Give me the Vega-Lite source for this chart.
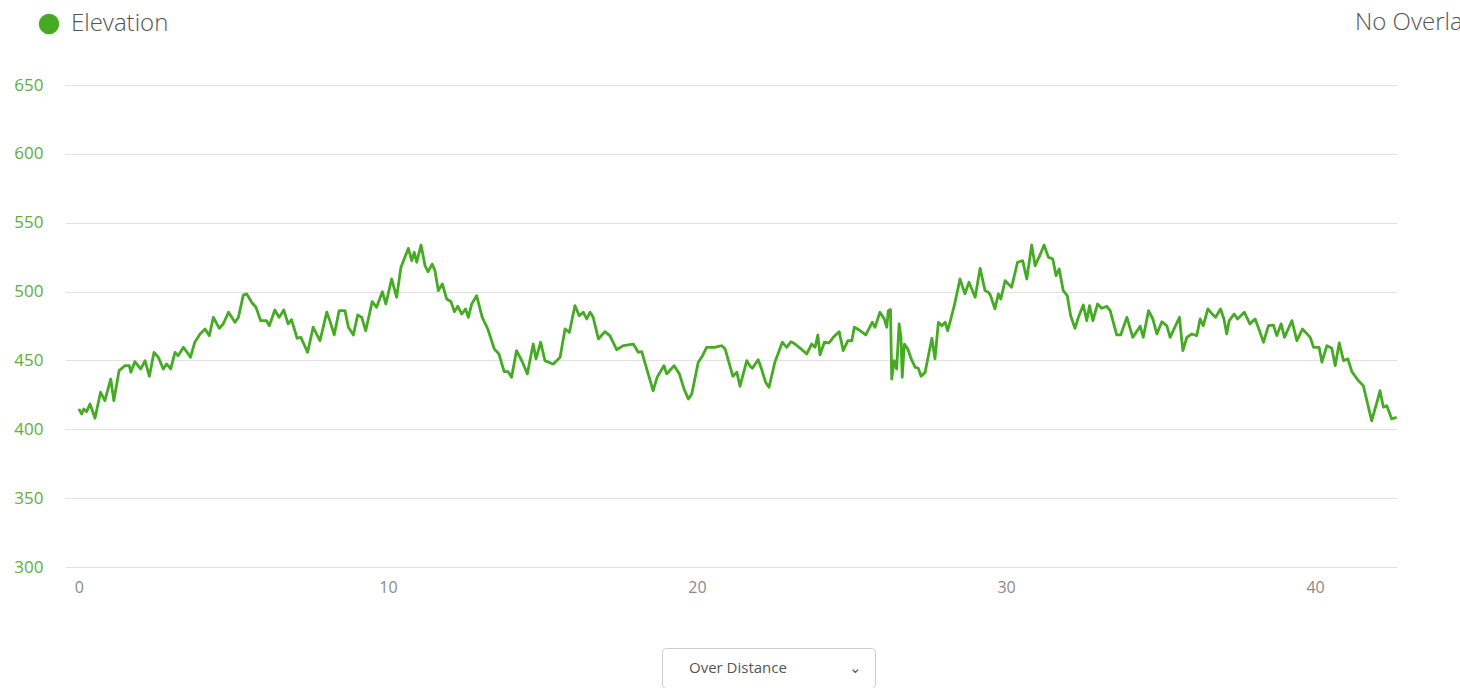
{
  "$schema": "https://vega.github.io/schema/vega-lite/v6.json",
  "width": 1332,
  "height": 482,
  "autosize": {"type": "none"},
  "padding": {"left": 65, "top": 85, "right": 63, "bottom": 121},
  "background": "white",
  "title": {
    "text": "No Overlay",
    "anchor": "start",
    "frame": "group",
    "dx": 1290,
    "offset": -35,
    "baseline": "middle",
    "font": "Open Sans",
    "fontSize": 24,
    "fontWeight": 300,
    "color": "#555555"
  },
  "data": {
    "values": [
      {"d": 0, "e": 414.7}, {"d": 0.09, "e": 411.1}, {"d": 0.16, "e": 414.7}, {"d": 0.25, "e": 412.8},
      {"d": 0.36, "e": 418.4}, {"d": 0.52, "e": 408.0}, {"d": 0.70, "e": 426.9}, {"d": 0.84, "e": 420.8},
      {"d": 1.03, "e": 436.5}, {"d": 1.13, "e": 420.8}, {"d": 1.30, "e": 442.6}, {"d": 1.49, "e": 446.2},
      {"d": 1.63, "e": 446.2}, {"d": 1.68, "e": 441.4}, {"d": 1.81, "e": 449.1}, {"d": 2.00, "e": 443.8},
      {"d": 2.14, "e": 449.8}, {"d": 2.28, "e": 438.5}, {"d": 2.43, "e": 455.9}, {"d": 2.57, "e": 452.3},
      {"d": 2.73, "e": 443.8}, {"d": 2.84, "e": 447.4}, {"d": 2.97, "e": 443.8}, {"d": 3.11, "e": 455.9},
      {"d": 3.21, "e": 453.4}, {"d": 3.38, "e": 459.5}, {"d": 3.50, "e": 455.9}, {"d": 3.61, "e": 452.3},
      {"d": 3.75, "e": 463.2}, {"d": 3.92, "e": 469.2}, {"d": 4.08, "e": 472.8}, {"d": 4.22, "e": 468.0},
      {"d": 4.35, "e": 481.3}, {"d": 4.54, "e": 473.3}, {"d": 4.67, "e": 476.5}, {"d": 4.84, "e": 485.0},
      {"d": 5.05, "e": 477.7}, {"d": 5.16, "e": 481.3}, {"d": 5.32, "e": 497.5}, {"d": 5.43, "e": 498.3},
      {"d": 5.59, "e": 492.2}, {"d": 5.73, "e": 488.6}, {"d": 5.88, "e": 478.9}, {"d": 6.07, "e": 478.9},
      {"d": 6.16, "e": 475.2}, {"d": 6.34, "e": 486.6}, {"d": 6.48, "e": 481.3}, {"d": 6.63, "e": 486.6},
      {"d": 6.77, "e": 476.5}, {"d": 6.88, "e": 479.6}, {"d": 7.06, "e": 466.1}, {"d": 7.18, "e": 466.8},
      {"d": 7.40, "e": 455.9}, {"d": 7.58, "e": 474.1}, {"d": 7.80, "e": 464.3}, {"d": 8.02, "e": 485.0},
      {"d": 8.12, "e": 478.9}, {"d": 8.26, "e": 468.5}, {"d": 8.42, "e": 486.1}, {"d": 8.61, "e": 486.1},
      {"d": 8.72, "e": 474.1}, {"d": 8.88, "e": 468.5}, {"d": 9.02, "e": 483.0}, {"d": 9.15, "e": 481.3},
      {"d": 9.28, "e": 471.6}, {"d": 9.49, "e": 492.7}, {"d": 9.63, "e": 488.6}, {"d": 9.82, "e": 499.9},
      {"d": 9.93, "e": 491.0}, {"d": 10.12, "e": 509.1}, {"d": 10.28, "e": 495.9}, {"d": 10.42, "e": 517.6},
      {"d": 10.66, "e": 531.4}, {"d": 10.77, "e": 522.4}, {"d": 10.85, "e": 528.5}, {"d": 10.93, "e": 521.3},
      {"d": 11.07, "e": 533.8}, {"d": 11.20, "e": 518.8}, {"d": 11.30, "e": 514.4}, {"d": 11.43, "e": 520.0},
      {"d": 11.52, "e": 515.2}, {"d": 11.63, "e": 500.7}, {"d": 11.76, "e": 505.5}, {"d": 11.90, "e": 494.6},
      {"d": 12.04, "e": 492.7}, {"d": 12.15, "e": 485.4}, {"d": 12.26, "e": 489.3}, {"d": 12.39, "e": 483.7},
      {"d": 12.51, "e": 487.4}, {"d": 12.60, "e": 481.3}, {"d": 12.71, "e": 491.0}, {"d": 12.87, "e": 497.0},
      {"d": 13.05, "e": 481.3}, {"d": 13.23, "e": 472.8}, {"d": 13.44, "e": 458.3}, {"d": 13.59, "e": 454.7},
      {"d": 13.76, "e": 441.8}, {"d": 13.89, "e": 441.8}, {"d": 14.00, "e": 437.8}, {"d": 14.16, "e": 457.1},
      {"d": 14.33, "e": 449.8}, {"d": 14.40, "e": 446.2}, {"d": 14.51, "e": 440.2}, {"d": 14.70, "e": 461.9},
      {"d": 14.79, "e": 451.1}, {"d": 14.94, "e": 463.2}, {"d": 15.08, "e": 449.8}, {"d": 15.35, "e": 447.4},
      {"d": 15.57, "e": 452.3}, {"d": 15.73, "e": 472.8}, {"d": 15.87, "e": 470.4}, {"d": 16.05, "e": 489.8},
      {"d": 16.19, "e": 482.5}, {"d": 16.32, "e": 485.0}, {"d": 16.43, "e": 480.1}, {"d": 16.54, "e": 485.0},
      {"d": 16.64, "e": 481.3}, {"d": 16.81, "e": 465.6}, {"d": 17.02, "e": 470.9}, {"d": 17.18, "e": 468.0},
      {"d": 17.40, "e": 457.8}, {"d": 17.61, "e": 460.7}, {"d": 17.94, "e": 461.9}, {"d": 18.10, "e": 455.9},
      {"d": 18.21, "e": 456.4}, {"d": 18.39, "e": 442.6}, {"d": 18.58, "e": 428.0}, {"d": 18.71, "e": 437.8},
      {"d": 18.93, "e": 446.2}, {"d": 19.02, "e": 440.2}, {"d": 19.26, "e": 446.2}, {"d": 19.43, "e": 440.2},
      {"d": 19.58, "e": 429.3}, {"d": 19.72, "e": 422.0}, {"d": 19.83, "e": 425.6}, {"d": 20.04, "e": 448.7},
      {"d": 20.18, "e": 453.4}, {"d": 20.31, "e": 459.5}, {"d": 20.58, "e": 459.5}, {"d": 20.80, "e": 460.7},
      {"d": 20.91, "e": 458.3}, {"d": 21.16, "e": 438.5}, {"d": 21.29, "e": 441.4}, {"d": 21.39, "e": 431.2},
      {"d": 21.61, "e": 449.8}, {"d": 21.72, "e": 445.8}, {"d": 21.79, "e": 444.3}, {"d": 21.98, "e": 450.5},
      {"d": 22.07, "e": 445.0}, {"d": 22.22, "e": 434.1}, {"d": 22.33, "e": 430.5}, {"d": 22.52, "e": 448.7},
      {"d": 22.76, "e": 463.2}, {"d": 22.90, "e": 459.5}, {"d": 23.04, "e": 463.6}, {"d": 23.17, "e": 461.9},
      {"d": 23.37, "e": 458.3}, {"d": 23.55, "e": 454.7}, {"d": 23.71, "e": 461.9}, {"d": 23.82, "e": 459.5},
      {"d": 23.91, "e": 468.5}, {"d": 23.98, "e": 454.0}, {"d": 24.12, "e": 463.2}, {"d": 24.27, "e": 462.7},
      {"d": 24.41, "e": 466.8}, {"d": 24.60, "e": 470.9}, {"d": 24.73, "e": 457.1}, {"d": 24.88, "e": 464.3},
      {"d": 25.01, "e": 464.3}, {"d": 25.09, "e": 474.1}, {"d": 25.28, "e": 471.6}, {"d": 25.46, "e": 468.5},
      {"d": 25.67, "e": 477.7}, {"d": 25.76, "e": 474.1}, {"d": 25.92, "e": 485.0}, {"d": 26.06, "e": 480.1},
      {"d": 26.14, "e": 474.1}, {"d": 26.19, "e": 486.1}, {"d": 26.26, "e": 486.9}, {"d": 26.30, "e": 436.5},
      {"d": 26.38, "e": 449.8}, {"d": 26.46, "e": 443.8}, {"d": 26.54, "e": 476.5}, {"d": 26.60, "e": 466.8},
      {"d": 26.64, "e": 437.8}, {"d": 26.71, "e": 461.9}, {"d": 26.82, "e": 458.3}, {"d": 26.93, "e": 451.1},
      {"d": 27.06, "e": 445.0}, {"d": 27.16, "e": 444.3}, {"d": 27.25, "e": 438.5}, {"d": 27.38, "e": 441.4},
      {"d": 27.60, "e": 466.1}, {"d": 27.70, "e": 451.1}, {"d": 27.81, "e": 477.7}, {"d": 27.92, "e": 475.2},
      {"d": 28.03, "e": 477.7}, {"d": 28.11, "e": 471.6}, {"d": 28.19, "e": 478.1}, {"d": 28.33, "e": 490.3},
      {"d": 28.51, "e": 509.1}, {"d": 28.67, "e": 498.3}, {"d": 28.80, "e": 506.8}, {"d": 29.00, "e": 495.9},
      {"d": 29.16, "e": 516.9}, {"d": 29.32, "e": 500.7}, {"d": 29.43, "e": 499.5}, {"d": 29.50, "e": 497.0},
      {"d": 29.64, "e": 487.4}, {"d": 29.75, "e": 498.3}, {"d": 29.83, "e": 494.6}, {"d": 29.97, "e": 507.9},
      {"d": 30.18, "e": 503.1}, {"d": 30.37, "e": 521.3}, {"d": 30.54, "e": 522.4}, {"d": 30.67, "e": 509.1},
      {"d": 30.83, "e": 533.8}, {"d": 30.94, "e": 518.8}, {"d": 31.10, "e": 526.6}, {"d": 31.23, "e": 533.8},
      {"d": 31.37, "e": 524.9}, {"d": 31.51, "e": 523.7}, {"d": 31.62, "e": 511.5}, {"d": 31.72, "e": 516.4},
      {"d": 31.85, "e": 500.7}, {"d": 31.98, "e": 497.0}, {"d": 32.09, "e": 482.5}, {"d": 32.23, "e": 473.3},
      {"d": 32.34, "e": 481.3}, {"d": 32.50, "e": 490.3}, {"d": 32.61, "e": 478.9}, {"d": 32.70, "e": 489.8},
      {"d": 32.81, "e": 478.9}, {"d": 32.96, "e": 491.0}, {"d": 33.10, "e": 487.9}, {"d": 33.26, "e": 489.3},
      {"d": 33.37, "e": 486.1}, {"d": 33.58, "e": 468.5}, {"d": 33.71, "e": 468.5}, {"d": 33.91, "e": 481.3},
      {"d": 34.10, "e": 466.8}, {"d": 34.34, "e": 474.8}, {"d": 34.44, "e": 466.8}, {"d": 34.61, "e": 486.1},
      {"d": 34.75, "e": 480.1}, {"d": 34.88, "e": 469.2}, {"d": 35.04, "e": 478.1}, {"d": 35.20, "e": 475.2},
      {"d": 35.31, "e": 466.8}, {"d": 35.61, "e": 481.3}, {"d": 35.72, "e": 457.1}, {"d": 35.85, "e": 466.8},
      {"d": 36.01, "e": 469.2}, {"d": 36.17, "e": 468.0}, {"d": 36.28, "e": 480.1}, {"d": 36.38, "e": 475.2},
      {"d": 36.53, "e": 487.4}, {"d": 36.67, "e": 483.7}, {"d": 36.78, "e": 481.3}, {"d": 36.94, "e": 487.4},
      {"d": 37.05, "e": 480.1}, {"d": 37.14, "e": 469.2}, {"d": 37.22, "e": 478.9}, {"d": 37.38, "e": 483.7},
      {"d": 37.49, "e": 480.1}, {"d": 37.71, "e": 485.0}, {"d": 37.89, "e": 476.5}, {"d": 38.06, "e": 480.1},
      {"d": 38.16, "e": 474.1}, {"d": 38.33, "e": 463.2}, {"d": 38.49, "e": 475.2}, {"d": 38.65, "e": 475.7},
      {"d": 38.76, "e": 468.0}, {"d": 38.90, "e": 476.5}, {"d": 39.01, "e": 466.8}, {"d": 39.25, "e": 478.9},
      {"d": 39.41, "e": 464.3}, {"d": 39.59, "e": 472.8}, {"d": 39.84, "e": 466.8}, {"d": 39.95, "e": 459.5},
      {"d": 40.13, "e": 459.5}, {"d": 40.22, "e": 448.7}, {"d": 40.38, "e": 460.7}, {"d": 40.54, "e": 458.8},
      {"d": 40.65, "e": 446.2}, {"d": 40.78, "e": 462.7}, {"d": 40.92, "e": 449.8}, {"d": 41.06, "e": 451.1},
      {"d": 41.19, "e": 441.8}, {"d": 41.40, "e": 435.3}, {"d": 41.56, "e": 431.7}, {"d": 41.83, "e": 406.2},
      {"d": 42.03, "e": 422.0}, {"d": 42.10, "e": 428.0}, {"d": 42.21, "e": 416.0}, {"d": 42.32, "e": 417.1},
      {"d": 42.48, "e": 407.5}, {"d": 42.64, "e": 408.7}
    ]
  },
  "mark": {"type": "line", "strokeWidth": 2.8, "strokeJoin": "round", "clip": true},
  "encoding": {
    "x": {
      "field": "d",
      "type": "quantitative",
      "scale": {"domain": [-0.45, 42.65], "nice": false, "zero": false},
      "axis": {
        "values": [0, 10, 20, 30, 40],
        "title": null,
        "grid": false,
        "domain": false,
        "ticks": false,
        "labelPadding": 12,
        "labelColor": "#8a8a8a",
        "labelFont": "Open Sans",
        "labelFontSize": 16
      }
    },
    "y": {
      "field": "e",
      "type": "quantitative",
      "scale": {"domain": [300, 650], "nice": false, "zero": false},
      "axis": {
        "values": [300, 350, 400, 450, 500, 550, 600, 650],
        "title": null,
        "grid": true,
        "gridColor": "#e2e2e2",
        "gridWidth": 1,
        "domain": false,
        "ticks": false,
        "labelPadding": 22,
        "labelColor": "#62ad3c",
        "labelFont": "Open Sans",
        "labelFontSize": 17
      }
    },
    "color": {
      "datum": "Elevation",
      "type": "nominal",
      "scale": {"range": ["#45ab22"]},
      "legend": {
        "title": null,
        "orient": "none",
        "legendX": -28,
        "legendY": -73,
        "symbolType": "circle",
        "symbolSize": 420,
        "symbolFillColor": "#45ab22",
        "symbolStrokeColor": "#45ab22",
        "symbolStrokeWidth": 0,
        "symbolOpacity": 1,
        "labelFont": "Open Sans",
        "labelFontSize": 24,
        "labelFontWeight": 300,
        "labelColor": "#555555",
        "labelOffset": 10,
        "padding": 0
      }
    },
    "strokeDash": {
      "datum": "Over Distance",
      "type": "nominal",
      "scale": {"range": [[1, 0]]},
      "legend": {
        "title": null,
        "orient": "none",
        "legendX": 597,
        "legendY": 563,
        "symbolSize": 0,
        "symbolOpacity": 0,
        "labelOffset": 0,
        "labelExpr": "'\u00a0Over Distance\u00a0\u00a0\u00a0\u00a0\u00a0\u00a0\u00a0\u00a0\u00a0\u00a0\u00a0\u00a0\u00a0\u00a0\u00a0\u00a0\u2304'",
        "labelFont": "Open Sans",
        "labelFontSize": 15,
        "labelColor": "#555555",
        "labelLimit": 400,
        "strokeColor": "#cccccc",
        "cornerRadius": 4,
        "padding": 12
      }
    }
  },
  "config": {
    "view": {"stroke": null}
  }
}
